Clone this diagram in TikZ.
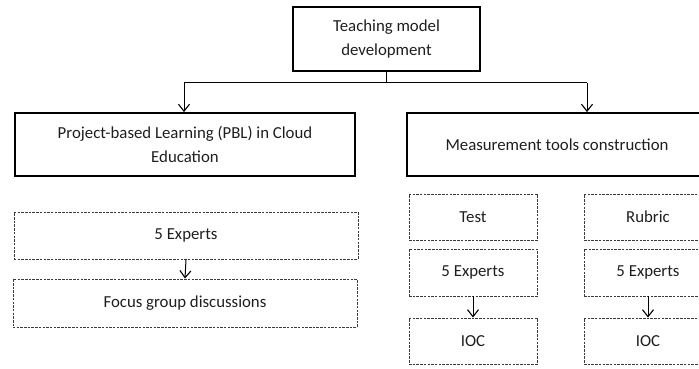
\documentclass[tikz,border=0pt]{standalone}
\usepackage{fontspec}
\setmainfont{Carlito}
\usetikzlibrary{arrows.meta}
\definecolor{inkgray}{HTML}{1E1E1E}
\definecolor{dashgray}{HTML}{3A3A3A}
\begin{document}
\begin{tikzpicture}[x=1bp,y=-1bp,
  every node/.style={font=\fontsize{16.8bp}{24.5bp}\selectfont, text=inkgray, align=center, inner sep=0pt},
  mainbox/.style={draw=black, line width=1.8bp, rectangle},
  subbox/.style={draw=dashgray, line width=0.9bp, dash pattern=on 2.5bp off 1.2bp, rectangle},
  bus/.style={draw=black, line width=1.8bp},
  link/.style={draw=black, line width=1bp, -{Straight Barb[length=7bp,width=11bp,line width=1.1bp]}}
]
\useasboundingbox (0,0) rectangle (699,368);

% top level
\node[mainbox, minimum width=187bp, minimum height=64bp] (top) at (386.5,39) {Teaching model\\development};

% second level
\node[mainbox, minimum width=340bp, minimum height=63bp] (pbl) at (185,144.5) {Project-based Learning (PBL) in Cloud\\Education};
\node[mainbox, minimum width=300bp, minimum height=63bp] (mtc) at (557,144.5) {Measurement tools construction};

% connectors from the top box
\coordinate (busL) at (184,82.5);
\coordinate (busR) at (587,82.5);
\draw[bus] (top.south) -- (top.south |- busL);
\draw[bus] (busL) -- (busR);
\draw[link] (busL) -- (busL |- pbl.north);
\draw[link] (busR) -- (busR |- mtc.north);

% left branch
\node[subbox, minimum width=344bp, minimum height=47bp] (exA) at (186,235.5) {5 Experts};
\node[subbox, minimum width=344bp, minimum height=48bp] (fgd) at (185,303) {Focus group discussions};
\draw[link] (exA.south) -- (fgd.north);

% test column
\node[subbox, minimum width=128bp, minimum height=46bp] (test) at (473,217) {Test};
\node[subbox, minimum width=128bp, minimum height=47bp] (exB) at (473,272.5) {5 Experts};
\node[subbox, minimum width=128bp, minimum height=46bp] (iocB) at (473,341) {IOC};
\draw[link] (exB.south) -- (iocB.north);

% rubric column
\node[subbox, minimum width=128bp, minimum height=46bp] (rub) at (648,217) {Rubric};
\node[subbox, minimum width=128bp, minimum height=47bp] (exC) at (648,272.5) {5 Experts};
\node[subbox, minimum width=128bp, minimum height=46bp] (iocC) at (648,341) {IOC};
\draw[link] (exC.south) -- (iocC.north);
\end{tikzpicture}
\end{document}
